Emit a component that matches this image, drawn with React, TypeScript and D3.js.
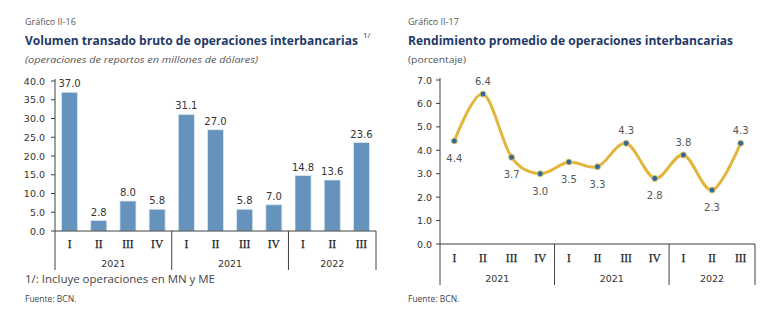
import React from 'react';
import * as d3 from 'd3';

const quarters = ['I', 'II', 'III', 'IV', 'I', 'II', 'III', 'IV', 'I', 'II', 'III'];
const years = ['2021', '2021', '2022'];
const yearSpans = [4, 4, 3];
const volumen = [37.0, 2.8, 8.0, 5.8, 31.1, 27.0, 5.8, 7.0, 14.8, 13.6, 23.6];
const rendimiento = [4.4, 6.4, 3.7, 3.0, 3.5, 3.3, 4.3, 2.8, 3.8, 2.3, 4.3];
const rendLabelAbove = [false, true, false, false, false, false, true, false, true, false, true];
const volTicks = [0, 5, 10, 15, 20, 25, 30, 35, 40];
const rendTicks = [0, 1, 2, 3, 4, 5, 6, 7];

const NUM_FONT = "'DejaVu Sans', Verdana, sans-serif";
const TITLE_FONT = "'Open Sans', 'Noto Sans', sans-serif";
const SERIF = "'Liberation Serif', serif";
const AXIS = '#404040';
const TEXT = '#333333';
const NAVY = '#1f3a68';

function groupBounds() {
  const out: { start: number; end: number; label: string }[] = [];
  let s = 0;
  yearSpans.forEach((n, i) => {
    out.push({ start: s, end: s + n, label: years[i] });
    s += n;
  });
  return out;
}

function CategoryAxis({ x0, x1, y0, yEnd, qY, yearY }: any) {
  const idx = d3.range(quarters.length);
  const cat = d3.scaleBand<number>().domain(idx).range([x0, x1]).padding(0);
  const groups = groupBounds();
  const edge = (i: number) => (i < quarters.length ? (cat(i) as number) : x1);
  return (
    <g>
      <line x1={x0} x2={x1} y1={y0} y2={y0} stroke={AXIS} strokeWidth={1} />
      {groups.map((g, i) => (
        <line key={'s' + i} x1={edge(g.end)} x2={edge(g.end)} y1={y0} y2={yEnd} stroke={AXIS} strokeWidth={1} />
      ))}
      {idx.map((i) => (
        <text key={'q' + i} x={(cat(i) as number) + cat.bandwidth() / 2} y={qY} textAnchor="middle"
          fontFamily={SERIF} fontSize={11.5} fill="#222" stroke="#222" strokeWidth={0.25}>{quarters[i]}</text>
      ))}
      {groups.map((g, i) => (
        <text key={'y' + i} x={(edge(g.start) + edge(g.end)) / 2} y={yearY} textAnchor="middle"
          fontFamily={NUM_FONT} fontSize={9.5} fill={TEXT}>{g.label}</text>
      ))}
    </g>
  );
}

function LeftChart() {
  const x0 = 55, x1 = 376, base = 231, top = 81;
  const idx = d3.range(volumen.length);
  const x = d3.scaleBand<number>().domain(idx).range([x0, x1]).paddingInner(0.45).paddingOuter(0.225);
  const y = d3.scaleLinear().domain([0, 40]).range([base, top]);
  return (
    <g>
      <text x={25} y={25} fontFamily={TITLE_FONT} fontSize={9} fill="#555">Gráfico II-16</text>
      <text x={25} y={45} fontFamily={TITLE_FONT} fontSize={11.5} fontWeight="bold" fill={NAVY}
        textLength={333} lengthAdjust="spacingAndGlyphs">Volumen transado bruto de operaciones interbancarias</text>
      <text x={363} y={38} fontFamily={TITLE_FONT} fontSize={8} fill={NAVY}>1/</text>
      <text x={25} y={63} fontFamily={TITLE_FONT} fontSize={9.5} fontStyle="italic" fill="#555"
        textLength={233} lengthAdjust="spacingAndGlyphs">(operaciones de reportos en millones de dólares)</text>
      {volTicks.map((t) => (
        <g key={t}>
          <line x1={x0 - 4} x2={x0} y1={y(t)} y2={y(t)} stroke={AXIS} />
          <text x={45} y={y(t) + 3.5} textAnchor="end" fontFamily={NUM_FONT} fontSize={9.5} fill={TEXT}>{t.toFixed(1)}</text>
        </g>
      ))}
      {idx.map((i) => (
        <g key={i}>
          <rect x={x(i)} y={y(volumen[i])} width={x.bandwidth()} height={base - y(volumen[i])}
            fill="#6693bb" stroke="#dce8f2" strokeWidth={0.8} />
          <text x={(x(i) as number) + x.bandwidth() / 2} y={y(volumen[i]) - 5} textAnchor="middle"
            fontFamily={NUM_FONT} fontSize={10} fill={TEXT}>{volumen[i].toFixed(1)}</text>
        </g>
      ))}
      <line x1={x0} x2={x0} y1={top - 2} y2={270} stroke={AXIS} />
      <CategoryAxis x0={x0} x1={x1} y0={base} yEnd={270} qY={248} yearY={267} />
      <text x={25} y={283} fontFamily={TITLE_FONT} fontSize={10} fill="#444"
        textLength={190} lengthAdjust="spacingAndGlyphs">1/: Incluye operaciones en MN y ME</text>
      <text x={25} y={302} fontFamily={TITLE_FONT} fontSize={8.5} fill="#444">Fuente: BCN.</text>
    </g>
  );
}

function RightChart() {
  const x0 = 440, x1 = 755, base = 244, top = 80;
  const idx = d3.range(rendimiento.length);
  const cat = d3.scaleBand<number>().domain(idx).range([x0, x1]).padding(0);
  const cx = (i: number) => (cat(i) as number) + cat.bandwidth() / 2;
  const y = d3.scaleLinear().domain([0, 7]).range([base, top]);
  const line = d3.line<number>().x((d, i) => cx(i)).y((d) => y(d)).curve(d3.curveCardinal.tension(0));
  return (
    <g>
      <text x={408} y={25} fontFamily={TITLE_FONT} fontSize={9} fill="#555">Gráfico II-17</text>
      <text x={408} y={45} fontFamily={TITLE_FONT} fontSize={11.5} fontWeight="bold" fill={NAVY}
        textLength={325} lengthAdjust="spacingAndGlyphs">Rendimiento promedio de operaciones interbancarias</text>
      <text x={408} y={63} fontFamily={TITLE_FONT} fontSize={9.5} fill="#555"
        textLength={58} lengthAdjust="spacingAndGlyphs">(porcentaje)</text>
      {rendTicks.map((t) => (
        <g key={t}>
          <line x1={x0 - 4} x2={x0} y1={y(t)} y2={y(t)} stroke={AXIS} />
          <text x={432} y={y(t) + 3.5} textAnchor="end" fontFamily={NUM_FONT} fontSize={9.5} fill={TEXT}>{t.toFixed(1)}</text>
        </g>
      ))}
      <line x1={x0} x2={x0} y1={top - 2} y2={285} stroke={AXIS} />
      <CategoryAxis x0={x0} x1={x1} y0={base} yEnd={285} qY={262} yearY={282} />
      <path d={line(rendimiento) as string} fill="none" stroke="#e2b53c" strokeWidth={3} />
      {idx.map((i) => (
        <g key={i}>
          <circle cx={cx(i)} cy={y(rendimiento[i])} r={3} fill="#2f6aa0" stroke="#e8c35a" strokeWidth={1} />
          <text x={cx(i)} y={rendLabelAbove[i] ? y(rendimiento[i]) - 9 : y(rendimiento[i]) + 21}
            textAnchor="middle" fontFamily={NUM_FONT} fontSize={10} fill="#555">{rendimiento[i].toFixed(1)}</text>
        </g>
      ))}
      <text x={408} y={302} fontFamily={TITLE_FONT} fontSize={8.5} fill="#444">Fuente: BCN.</text>
    </g>
  );
}

export default function App() {
  return (
    <svg width={779} height={325} style={{ position: 'absolute', left: 0, top: 0, background: '#fff' }}>
      <rect width={779} height={325} fill="#fff" />
      <LeftChart />
      <RightChart />
    </svg>
  );
}
